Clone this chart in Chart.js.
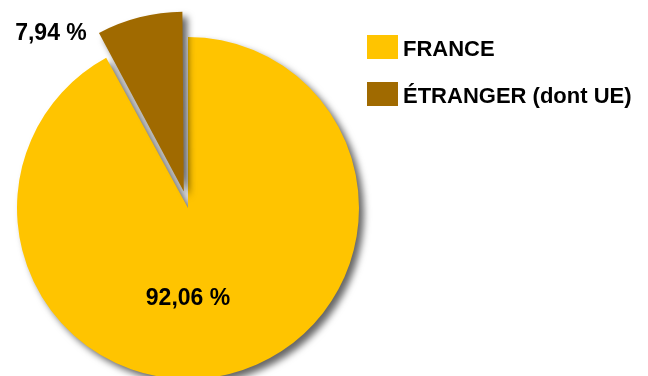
<!DOCTYPE html>
<html>
<head>
<meta charset="utf-8">
<script src="https://cdn.jsdelivr.net/npm/chart.js@4"></script>
<style>
  body { margin: 0; background: #fff; }
  #wrap { width: 648px; height: 376px; }
</style>
</head>
<body>
<div id="wrap"><canvas id="pieChart" width="648" height="376"></canvas></div>
<script>
var categories = ['FRANCE', 'ÉTRANGER (dont UE)'];
var shares = [92.06, 7.94];
var shareLabels = ['92,06 %', '7,94 %'];
var sliceColors = ['#FFC400', '#A06A00'];
var sliceOffsets = [0, 68];

// soft drop shadow under the slices
var shadowPlugin = {
    id: 'shadow',
    beforeDatasetsDraw: function(chart) {
        var c = chart.ctx;
        c.save();
        c.shadowColor = 'rgba(0, 0, 0, 0.6)';
        c.shadowBlur = 7;
        c.shadowOffsetX = 5;
        c.shadowOffsetY = 5;
    },
    afterDatasetsDraw: function(chart) {
        chart.ctx.restore();
    }
};

// same shift the arc element applies when it is exploded
function arcShift(arc, offset) {
    var half = (arc.startAngle + arc.endAngle) / 2;
    var circ = arc.endAngle - arc.startAngle;
    var fix = 1 - Math.sin(Math.min(Math.PI, circ));
    var d = offset / 4 * (1 + fix);
    return { x: arc.x + Math.cos(half) * d, y: arc.y + Math.sin(half) * d };
}

// percentage labels + legend on the right
var labelsPlugin = {
    id: 'labels',
    afterDraw: function(chart) {
        var c = chart.ctx;
        var arcs = chart.getDatasetMeta(0).data;
        c.save();
        c.fillStyle = '#000';
        c.font = 'bold 23px "Liberation Sans", Arial, sans-serif';
        c.textAlign = 'center';
        c.textBaseline = 'middle';

        var big = arcs[0];
        c.fillText(shareLabels[0], big.x, big.y + big.outerRadius * 0.53);

        var small = arcs[1];
        var p = arcShift(small, sliceOffsets[1]);
        var a = small.startAngle - 0.22;
        var r = small.outerRadius * 1.16;
        c.fillText(shareLabels[1], p.x + Math.cos(a) * r, p.y + Math.sin(a) * r);

        // legend
        c.textAlign = 'left';
        c.textBaseline = 'alphabetic';
        c.font = 'bold 22px "Liberation Sans", Arial, sans-serif';
        for (var i = 0; i < categories.length; i++) {
            var top = 35 + i * 47;
            c.fillStyle = sliceColors[i];
            c.fillRect(367, top, 31, 24);
            c.fillStyle = '#000';
            c.fillText(categories[i], 403, top + 21);
        }
        c.restore();
    }
};

var ctx = document.getElementById('pieChart').getContext('2d');
var pieChart = new Chart(ctx, {
    type: 'pie',
    data: {
        labels: categories,
        datasets: [
            {
                data: shares,
                backgroundColor: sliceColors,
                borderWidth: 0,
                offset: sliceOffsets,
                clip: false
            }
        ]
    },
    options: {
        responsive: false,
        animation: false,
        radius: 171,
        layout: {
            padding: { left: 0, right: 272, top: 40, bottom: 0 }
        },
        plugins: {
            legend: { display: false },
            tooltip: { enabled: false }
        }
    },
    plugins: [shadowPlugin, labelsPlugin]
});
</script>
</body>
</html>
